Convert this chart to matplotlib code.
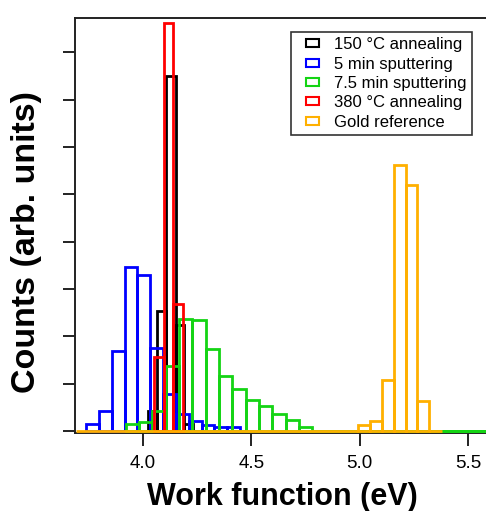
import numpy as np
import matplotlib
matplotlib.use("Agg")
import matplotlib.pyplot as plt
from matplotlib.patches import Rectangle
from matplotlib.legend_handler import HandlerPatch

plt.rcParams['font.family'] = ['Liberation Sans', 'DejaVu Sans']

# bin edges (eV) and counts (arb. units)
edges_150 = [4.024, 4.066, 4.108, 4.150, 4.191, 4.233]
counts_150 = [0.43, 2.54, 7.50, 2.23, 0.14]

edges_5min = [3.737, 3.796, 3.856, 3.915, 3.974, 4.034, 4.093, 4.152,
              4.211, 4.271, 4.330, 4.389, 4.449]
counts_5min = [0.14, 0.42, 1.70, 3.46, 3.29, 1.76, 0.79, 0.37, 0.21, 0.12, 0.08, 0.08]

edges_75min = [3.920, 3.982, 4.043, 4.105, 4.166, 4.228, 4.289, 4.351, 4.412,
               4.474, 4.535, 4.597, 4.658, 4.720, 4.781, 5.75]
counts_75min = [0.14, 0.20, 0.42, 1.38, 2.37, 2.35, 1.74, 1.17, 0.88, 0.66,
                0.52, 0.36, 0.23, 0.08, 0.0]

edges_380 = [4.051, 4.095, 4.139, 4.183]
counts_380 = [1.56, 8.62, 2.68]

edges_gold = [3.69, 4.992, 5.047, 5.102, 5.157, 5.212, 5.267, 5.322, 5.378]
counts_gold = [0.0, 0.12, 0.21, 1.07, 5.61, 5.20, 0.63, 0.0]

series = [
    ("150 °C annealing", edges_150, counts_150, "black"),
    ("5 min sputtering", edges_5min, counts_5min, "#0000FF"),
    ("7.5 min sputtering", edges_75min, counts_75min, "#14D414"),
    ("380 °C annealing", edges_380, counts_380, "#FF0000"),
    ("Gold reference", edges_gold, counts_gold, "#FFB000"),
]


# small open box as legend key, like R's fill boxes
def small_box(legend, orig_handle, xdescent, ydescent, width, height, fontsize):
    w, h = 9.0, 5.8
    return Rectangle((-xdescent + (width - w) / 2, -ydescent + (height - h) / 2), w, h)


fig = plt.figure(figsize=(4.86, 5.11), dpi=100)
ax = fig.add_axes([0.1543, 0.1526, 0.92, 0.8112])

handles = []
for i, (label, edges, counts, color) in enumerate(series):
    e = np.array(edges)
    ax.bar(e[:-1], counts, width=np.diff(e), align='edge', fill=False,
           edgecolor=color, linewidth=2.0, zorder=3 + i * 0.1)
    handles.append(Rectangle((0, 0), 1, 1, fill=False, edgecolor=color,
                             linewidth=1.5, label=label))

ax.set_xlim(3.686, 5.75)
ax.set_ylim(-0.04, 8.71)
ax.set_xticks([4.0, 4.5, 5.0, 5.5])
ax.set_xticklabels(["4.0", "4.5", "5.0", "5.5"])
ax.set_yticks(range(9))
ax.set_yticklabels([])
ax.tick_params(direction='out', length=9, width=1.4, labelsize=13.5,
               pad=7, color='#222222')
for s in ax.spines.values():
    s.set_linewidth(1.4)
    s.set_color('#222222')

fig.text(282 / 486, 1 - 497 / 511, "Work function (eV)", fontsize=22,
         fontweight='bold', ha='center', va='center')
fig.text(27 / 486, 1 - 242 / 511, "Counts (arb. units)", fontsize=24.5,
         fontweight='bold', ha='center', va='center', rotation=90)

leg = ax.legend(handles=handles, loc='upper left', bbox_to_anchor=(0.4826, 0.9667),
                borderaxespad=0, fontsize=12, frameon=True, fancybox=False,
                edgecolor='black', handlelength=2.0, handleheight=0.7,
                handletextpad=0.3, labelspacing=0.26, borderpad=0.3,
                handler_map={Rectangle: HandlerPatch(patch_func=small_box)})
leg.get_frame().set_linewidth(1.2)
leg.set_zorder(10)

fig.savefig("out.png", dpi=100)
